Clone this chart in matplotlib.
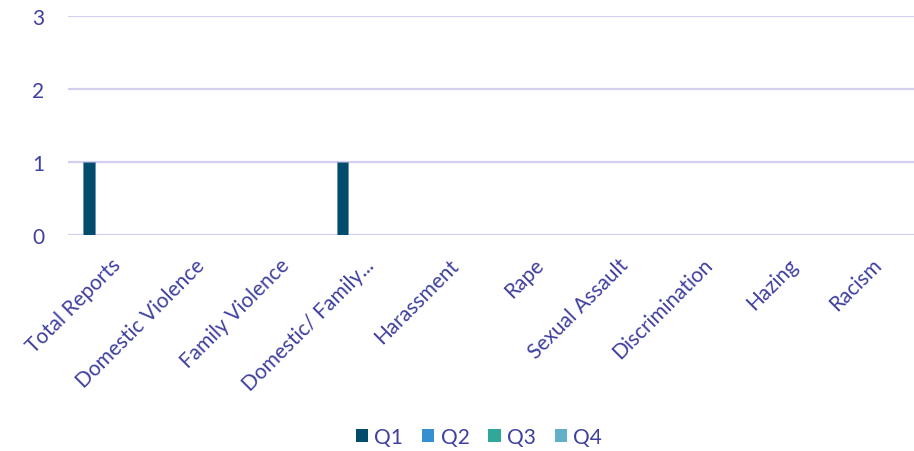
import numpy as np
import matplotlib.pyplot as plt
from matplotlib.patches import Patch

plt.rcParams['font.family'] = ['Lato', 'DejaVu Sans']

categories = ["Total Reports", "Domestic Violence", "Family Violence",
              "Domestic/ Family...", "Harassment", "Rape", "Sexual Assault",
              "Discrimination", "Hazing", "Racism"]
quarters = ["Q1", "Q2", "Q3", "Q4"]
q1 = [1, 0, 0, 1, 0, 0, 0, 0, 0, 0]
q2 = [0, 0, 0, 0, 0, 0, 0, 0, 0, 0]
q3 = [0, 0, 0, 0, 0, 0, 0, 0, 0, 0]
q4 = [0, 0, 0, 0, 0, 0, 0, 0, 0, 0]
colors = ["#004C6D", "#3690D0", "#2FA89A", "#62B0C8"]

text_color = "#3F3F9F"
grid_color = "#D2D0EE"

fig = plt.figure(figsize=(9.14, 4.52), dpi=100)
ax = fig.add_axes([68 / 914, 1 - 236 / 452, (914 - 68) / 914, (236 - 17) / 452])

x = np.arange(len(categories))
step = 0.17
width = 0.14
for i, (vals, c) in enumerate(zip([q1, q2, q3, q4], colors)):
    ax.bar(x + (i - 1.5) * step, vals, width, color=c, label=quarters[i],
           edgecolor="#6A8CB0", linewidth=0.5, zorder=3)

ax.set_xlim(-0.5, len(categories) - 0.5)
ax.set_ylim(0, 3)
ax.set_yticks([0, 1, 2, 3])
ax.yaxis.grid(True, color=grid_color, linewidth=1.6, zorder=0)
ax.set_axisbelow(True)
for s in ax.spines.values():
    s.set_visible(False)
ax.tick_params(axis="both", length=0, colors=text_color, labelsize=15)
ax.tick_params(axis="y", pad=17)
ax.tick_params(axis="x", pad=14)
ax.set_xticks(x)
ax.set_xticklabels(categories, rotation=45, ha="right", rotation_mode="anchor")

handles = [Patch(facecolor=c, label=q) for c, q in zip(colors, quarters)]
fig.legend(handles=handles, loc="center", bbox_to_anchor=(479 / 914, 1 - 438 / 452),
           ncol=4, frameon=False, fontsize=15, labelcolor=text_color,
           handlelength=0.6, handleheight=0.6, handletextpad=0.3, columnspacing=0.9)

fig.savefig("out.png", dpi=100)
